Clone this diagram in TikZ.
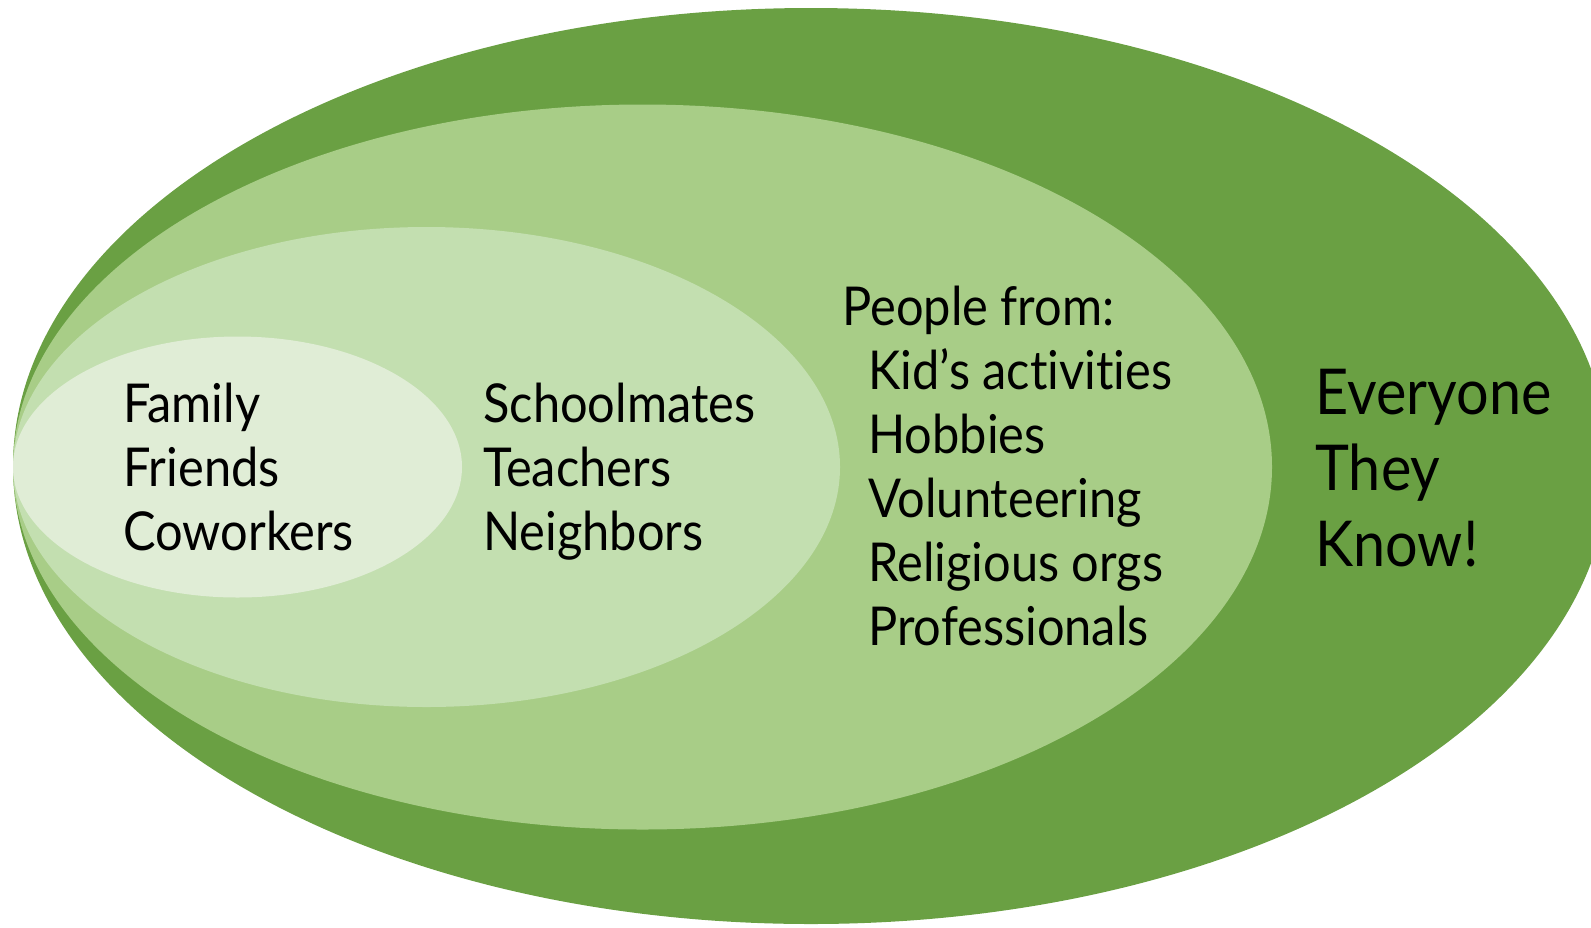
\documentclass[tikz,border=0pt]{standalone}
\usepackage{fontspec}
\setmainfont{Lato}[FakeStretch=0.91,Ligatures=NoCommon]
\usepackage{tikz}
\definecolor{ringfour}{RGB}{106,160,67}
\definecolor{ringthree}{RGB}{168,205,135}
\definecolor{ringtwo}{RGB}{195,223,176}
\definecolor{ringone}{RGB}{224,237,214}
\tikzstyle{ring}=[draw=none]
\tikzstyle{words}=[anchor=base west,inner sep=0pt,text=black,
  font=\fontsize{30.5pt}{36pt}\selectfont]
\tikzstyle{bigwords}=[words,font=\fontsize{36pt}{42pt}\selectfont]

\begin{document}
\begin{tikzpicture}[x=0.02cm,y=-0.02cm]
	\useasboundingbox (0,0) rectangle (1591,927);
	\clip (0,0) rectangle (1591,927);

	% nested circles of contacts
	\fill[ring,ringfour]  (811,466)   ellipse [x radius=798,   y radius=458];
	\fill[ring,ringthree] (642.5,467) ellipse [x radius=629.5, y radius=362.5];
	\fill[ring,ringtwo]   (426.5,467) ellipse [x radius=413.5, y radius=240];
	\fill[ring,ringone]   (237.5,467) ellipse [x radius=224.5, y radius=130.5];

	\foreach \t [count=\i] in {Family,Friends,Coworkers}
		\node[words] (close\i) at (123,{422+64*(\i-1)}) {\t};
	\foreach \t [count=\i] in {Schoolmates,Teachers,Neighbors}
		\node[words] (known\i) at (483,{422+64*(\i-1)}) {\t};

	\node[words] (from) at (842,325) {People from:};
	\foreach \t [count=\i] in {Kid’s activities,Hobbies,Volunteering,Religious orgs,Professionals}
		\node[words] (from\i) at (868,{325+64*\i}) {\t};

	\foreach \t [count=\i] in {Everyone,They,Know!}
		\node[bigwords] (all\i) at (1315,{414+76*(\i-1)}) {\t};
\end{tikzpicture}
\end{document}
